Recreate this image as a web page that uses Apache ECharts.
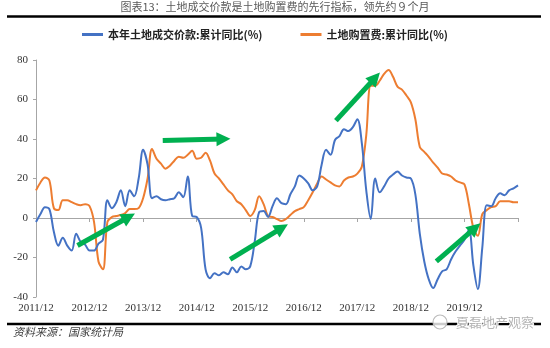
<!DOCTYPE html>
<html><head><meta charset="utf-8">
<script src="https://cdn.jsdelivr.net/npm/echarts@6/dist/echarts.min.js"></script>
<style>html,body{margin:0;padding:0;background:#fff}#c{width:550px;height:348px}</style>
</head><body><div id="c"></div>
<script>
// Categories: monthly, 2011/12 .. 2020/12
const months = [];
for (let y = 2011; y <= 2020; y++) {
  for (let m = 1; m <= 12; m++) {
    if (y === 2011 && m < 12) continue;
    months.push(y + '/' + (m < 10 ? '0' + m : m));
  }
}
const landDeal = [
  -2, 2, 5.5, 4.5, -7, -14, -10, -14, -16.5, -8, -12, -13.5,
  -16.5, -16.5, -13, -11, 9, 5, 8, 14, 6, 14, 11, 20,
  34.5, 27, 10, 11, 9.5, 9, 9.5, 10, 13, 10.5, 21, 1,
  0.5, -5, -26, -30.5, -28, -29, -27.5, -28.5, -25, -27.5, -24.5, -26,
  -24.5, -12, 3, 3.5, 0.5, 6, 10, 7.5, 7, 12, 16, 21.5,
  20, 17.5, 14, 16, 27, 34.5, 32, 39.5, 41.5, 45, 44, 46,
  50, 38, 14, -0.5, 20, 13, 16, 20, 22, 23.5, 21.5, 20.5,
  20, 12, -8, -22, -31, -35.5, -31, -27, -26, -21, -17, -14,
  -11, -6, -24, -36, -15, 6.5, 6, 10, 12.5, 11.5, 14, 15,
  16.5
];
const landPurchase = [
  14, 18, 20.5, 19, 5, 4, 9, 9, 8, 7, 6.5, 7,
  6, -2, -22, -26, -2, 0.5, 1, 1.5, 2.5, 4.5, 4.5, 5,
  10, 20, 35, 30, 27.5, 25, 26.5, 29, 31, 30.5, 32, 34,
  30, 30.5, 33, 29, 22.5, 20, 17, 14, 12, 8.5, 7, 4,
  1, 4, 11, 7, 1, 0.5, -0.5, -1.5, -0.5, 1.5, 3.5, 4.5,
  5.5, 9, 13, 17.5, 21, 19.5, 18, 16.5, 16, 19, 20.5, 21,
  22.5, 26, 42, 67, 67, 69.5, 73, 75, 71.5, 66.5, 65, 62,
  58.5, 50, 36, 33.5, 31, 28, 25.5, 22.5, 22, 21, 19, 18,
  17, 7, -5, -9, 2, 4, 5.5, 6, 8.5, 8.5, 8.5, 8,
  8
];
// Annotation arrows: [fromIndex, fromValue, toIndex, toValue]
const arrows = [
  [9.3, -13.9, 20.8, 0.5],
  [28.4, 39.3, 42, 40],
  [43.5, -21, 55.1, -5],
  [67.2, 49.3, 76, 71],
  [89.7, -22, 98.4, -5]
];
const seriesNames = ['本年土地成交价款:累计同比(%)', '土地购置费:累计同比(%)'];
const yMin = -40, yMax = 80, yStep = 20;

const chart = echarts.init(document.getElementById('c'));
const serif = 'Liberation Serif';
const cjk = 'Noto Sans CJK SC';
chart.setOption({
  animation: false,
  backgroundColor: '#fff',
  grid: { left: 36, right: 32, top: 60, bottom: 51 },
  legend: {
    left: 77, top: 24, itemWidth: 21, itemHeight: 3, itemGap: 38, icon: 'rect',
    data: seriesNames,
    textStyle: { fontFamily: cjk, fontSize: 11, fontWeight: 'bold', color: '#222' }
  },
  xAxis: [
    {
      type: 'category', data: months, boundaryGap: false, position: 'bottom',
      axisLine: { show: false, onZero: false }, axisTick: { show: false },
      axisLabel: {
        interval: (i) => i % 12 === 0 && i < 108,
        fontFamily: serif, fontSize: 11, color: '#333', margin: 6
      },
      splitLine: { show: false }
    },
    {
      type: 'category', data: months, boundaryGap: false, position: 'top',
      axisLine: { onZero: true, lineStyle: { color: '#a6a6a6', width: 1 } },
      axisTick: { show: true, inside: true, length: 4, interval: (i) => i % 12 === 0, lineStyle: { color: '#a6a6a6' } },
      axisLabel: { show: false }, splitLine: { show: false }
    },
    { type: 'value', min: 0, max: months.length - 1, show: false, position: 'top' }
  ],
  yAxis: {
    type: 'value', min: yMin, max: yMax, interval: yStep,
    axisLine: { show: true, lineStyle: { color: '#a6a6a6' } },
    axisTick: { show: true, length: 3, lineStyle: { color: '#a6a6a6' } },
    axisLabel: { fontFamily: serif, fontSize: 11, color: '#333', margin: 8 },
    splitLine: { show: false }
  },
  series: [
    {
      name: seriesNames[0], type: 'line', data: landDeal, xAxisIndex: 1, smooth: 0.35,
      symbol: 'none', lineStyle: { color: '#4472C4', width: 2 }, itemStyle: { color: '#4472C4' }, z: 3
    },
    {
      name: seriesNames[1], type: 'line', data: landPurchase, xAxisIndex: 1, smooth: 0.35,
      symbol: 'none', lineStyle: { color: '#ED7D31', width: 2 }, itemStyle: { color: '#ED7D31' }, z: 2
    },
    {
      type: 'lines', coordinateSystem: 'cartesian2d', xAxisIndex: 2, yAxisIndex: 0, z: 5,
      symbol: ['none', 'triangle'], symbolSize: 14,
      lineStyle: { color: '#00B050', width: 5, opacity: 1 },
      data: arrows.map(a => ({ coords: [[a[0], a[1]], [a[2], a[3]]] }))
    }
  ],
  graphic: [
    { type: 'text', left: 'center', top: 1, style: { text: '图表13：土地成交价款是土地购置费的先行指标，领先约９个月', fontFamily: cjk, fontSize: 11, fill: '#595959' }, x: -15 },
    { type: 'line', shape: { x1: 7, y1: 16.5, x2: 541, y2: 16.5 }, style: { stroke: '#000', lineWidth: 2.5 } },
    { type: 'line', shape: { x1: 7, y1: 324, x2: 541, y2: 324 }, style: { stroke: '#000', lineWidth: 2.5 } },
    { type: 'text', left: 13, top: 326, style: { text: '资料来源：国家统计局', fontFamily: cjk, fontSize: 11, fontStyle: 'italic', fill: '#404040' } },
    { type: 'circle', shape: { cx: 440, cy: 322, r: 7 }, style: { fill: 'rgba(255,255,255,0.8)', stroke: '#bbb', lineWidth: 1.2 } },
    { type: 'text', left: 455, top: 315, style: { text: '夏磊地产观察', fontFamily: cjk, fontSize: 13, fill: '#b5b5b5', stroke: '#fff', lineWidth: 2 } }
  ]
});
</script></body></html>
